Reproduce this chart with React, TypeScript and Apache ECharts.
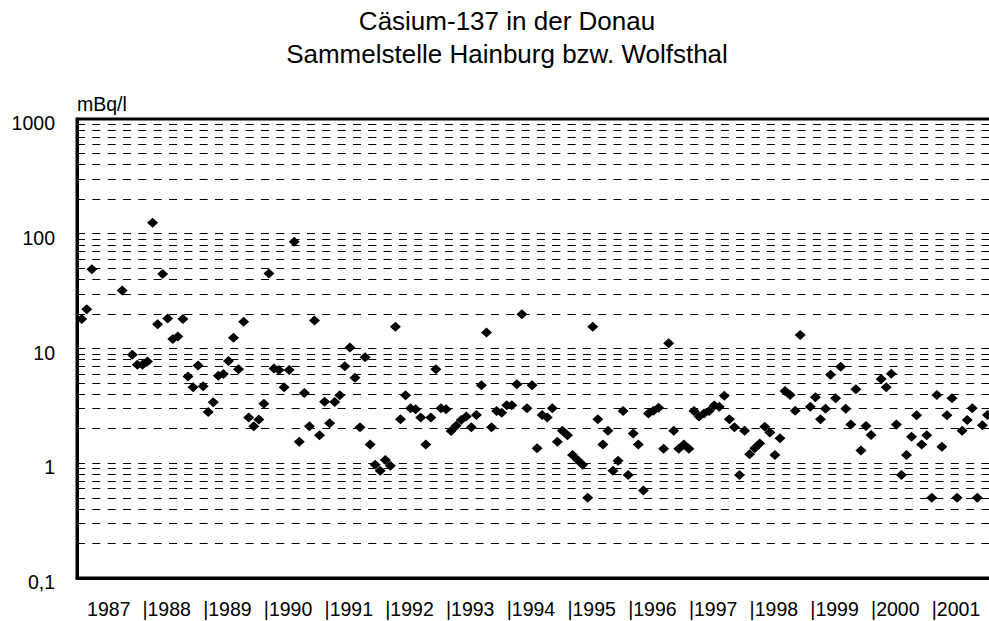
import React, { useEffect, useRef } from "react";
import * as echarts from "echarts";

const FONT = '"Liberation Sans", Arial, Helvetica, sans-serif';

const titleLines = ["Cäsium-137 in der Donau", "Sammelstelle Hainburg bzw. Wolfsthal"];
const unitLabel = "mBq/l";

// monthly samples, Jan..Dec of each year (null = no sample)
const years = [1987, 1988, 1989, 1990, 1991, 1992, 1993, 1994, 1995, 1996, 1997, 1998, 1999, 2000, 2001];
const cs1987 = [18.1, 22, 49, null, null, null, null, null, 32, null, 8.8, 7.2];
const cs1988 = [7.2, 7.7, 125, 16.3, 44.6, 18.3, 12.1, 12.7, 18.1, 5.7, 4.6, 7.1];
const cs1989 = [4.7, 2.8, 3.4, 5.8, 6.0, 7.8, 12.4, 6.6, 17.1, 2.5, 2.1, 2.4];
const cs1990 = [3.3, 45, 6.7, 6.5, 4.6, 6.5, 85, 1.54, 4.1, 2.1, 17.5, 1.75];
const cs1991 = [3.44, 2.23, 3.42, 3.91, 7.0, 10.2, 5.57, 2.06, 8.4, 1.46, 0.97, 0.86];
const cs1992 = [1.07, 0.95, 15.5, 2.42, 3.91, 3.01, 2.95, 2.51, 1.46, 2.51, 6.59, 3.01];
const cs1993 = [2.95, 1.91, 2.12, 2.38, 2.55, 2.06, 2.63, 4.78, 13.8, 2.06, 2.85, 2.76];
const cs1994 = [3.2, 3.2, 4.88, 19.9, 3.01, 4.78, 1.35, 2.63, 2.51, 3.01, 1.54, 1.92];
const cs1995 = [1.75, 1.18, 1.07, 0.97, 0.5, 15.5, 2.42, 1.46, 1.92, 0.86, 1.05, 2.85];
const cs1996 = [0.79, 1.82, 1.46, 0.58, 2.72, 2.87, 3.05, 1.34, 11.1, 1.92, 1.34, 1.46];
const cs1997 = [1.34, 2.85, 2.55, 2.72, 2.85, 3.18, 3.11, 3.88, 2.42, 2.06, 0.79, 1.92];
const cs1998 = [1.2, 1.35, 1.49, 2.08, 1.85, 1.18, 1.65, 4.26, 3.93, 2.87, 13.1, null];
const cs1999 = [3.11, 3.76, 2.42, 2.99, 5.91, 3.68, 6.94, 2.99, 2.18, 4.41, 1.29, 2.11];
const cs2000 = [1.76, null, 5.42, 4.59, 6.03, 2.18, 0.79, 1.18, 1.7, 2.62, 1.46, 1.75];
const cs2001 = [0.5, 3.93, 1.39, 2.62, 3.68, 0.5, 1.92, 2.38, 3.01, 0.5, 2.14, 2.63];
const yearlyValues = [cs1987, cs1988, cs1989, cs1990, cs1991, cs1992, cs1993, cs1994, cs1995, cs1996, cs1997, cs1998, cs1999, cs2000, cs2001];

// dashed horizontal grid lines (log axis minor steps)
const gridLineValues = [
  0.2, 0.3, 0.4, 0.5, 0.6, 0.7, 0.8, 0.9,
  1, 2, 3, 4, 5, 6, 7, 8, 9,
  10, 20, 30, 40, 50, 60, 70, 80, 90,
  100, 200, 300, 400, 500, 600, 700, 800, 900,
];

const xLabelYears = [1987, 1988, 1989, 1990, 1991, 1992, 1993, 1994, 1995, 1996, 1997, 1998, 1999, 2000, 2001];

export default function App() {
  const ref = useRef<HTMLDivElement>(null);

  useEffect(() => {
    if (!ref.current) return;
    const chart = echarts.init(ref.current, null, { renderer: "svg" });

    const points: [number, number][] = [];
    years.forEach((y, yi) => {
      yearlyValues[yi].forEach((v, mi) => {
        if (v != null) points.push([y + mi / 12, v]);
      });
    });

    chart.setOption({
      animation: false,
      backgroundColor: "#fff",
      title: {
        text: titleLines.join("\n"),
        left: 507,
        top: 4,
        padding: 0,
        textAlign: "center",
        textStyle: {
          fontFamily: FONT,
          fontSize: 26,
          fontWeight: "normal",
          color: "#000",
          lineHeight: 33,
        },
      },
      grid: {
        left: 77,
        top: 119,
        right: 7.5,
        bottom: 43,
        show: true,
        borderColor: "#000",
        borderWidth: 3,
        containLabel: false,
        outerBoundsMode: "none",
      },
      xAxis: {
        type: "value",
        min: 1986.9225,
        max: 2002,
        axisLine: { show: true, onZero: false, lineStyle: { color: "#000", width: 3 } },
        axisTick: { show: false },
        splitLine: { show: false },
        axisLabel: {
          customValues: xLabelYears,
          formatter: (v: number) => (Math.round(v) === 1987 ? " 1987" : "|" + Math.round(v)),
          align: "left",
          margin: 21,
          fontFamily: FONT,
          fontSize: 19.5,
          color: "#000",
          hideOverlap: false,
        },
      },
      yAxis: {
        type: "log",
        logBase: 10,
        min: 0.1,
        max: 1000,
        name: unitLabel,
        nameLocation: "end",
        nameGap: 15,
        nameTextStyle: {
          fontFamily: FONT,
          fontSize: 19.5,
          color: "#000",
          align: "left",
          verticalAlign: "middle",
        },
        axisLine: { show: true, lineStyle: { color: "#000", width: 3 } },
        axisTick: { show: false },
        splitLine: { show: false },
        axisLabel: {
          margin: 22,
          verticalAlign: "top",
          lineHeight: 8,
          fontFamily: FONT,
          fontSize: 19.5,
          color: "#000",
          formatter: (v: number) => (v < 1 ? v.toFixed(1).replace(".", ",") : String(Math.round(v))),
        },
      },
      series: [
        {
          type: "scatter",
          data: [],
          z: 1,
          silent: true,
          markLine: {
            silent: true,
            symbol: ["none", "none"],
            label: { show: false },
            emphasis: { disabled: true },
            lineStyle: { color: "#000", width: 1, type: [8, 7.33] },
            data: gridLineValues.map((v) => ({ yAxis: v })),
          },
        },
        {
          type: "scatter",
          z: 3,
          data: points,
          symbol: "diamond",
          symbolSize: [11, 10],
          itemStyle: { color: "#000", opacity: 1 },
        },
      ],
    });

    return () => chart.dispose();
  }, []);

  return (
    <div
      style={{
        position: "absolute",
        left: 0,
        top: 0,
        width: 989,
        height: 621,
        overflow: "hidden",
        background: "#fff",
      }}
    >
      <div ref={ref} style={{ width: 1000, height: 621 }} />
    </div>
  );
}
